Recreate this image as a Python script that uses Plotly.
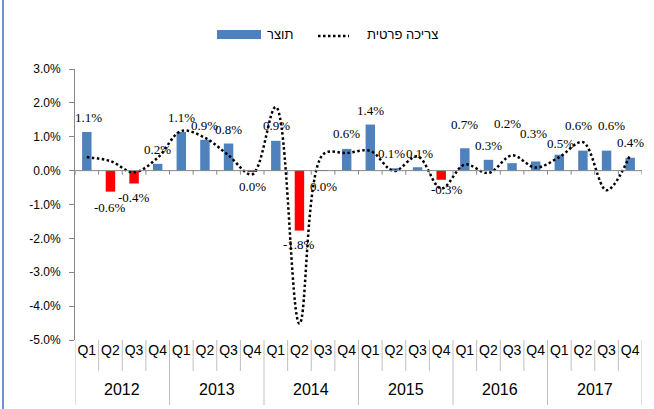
import plotly.graph_objects as go

# Quarterly growth, percent change from previous quarter
years = ["2012", "2013", "2014", "2015", "2016", "2017"]
quarters = ["Q1", "Q2", "Q3", "Q4"]

gdp = [1.14, -0.62, -0.38, 0.20,
       1.14, 0.91, 0.80, -0.03,
       0.88, -1.77, -0.01, 0.64,
       1.36, 0.07, 0.10, -0.27,
       0.66, 0.32, 0.22, 0.27,
       0.47, 0.59, 0.59, 0.38]

consumption = [0.40, 0.28, -0.05, 0.38,
               1.17, 0.97, 0.45, -0.11,
               1.88, -4.52, 0.48, 0.52,
               0.58, -0.01, 0.42, -0.53,
               0.18, -0.07, 0.45, 0.09,
               0.40, 0.84, -0.58, 0.47]

y_ticks = [3, 2, 1, 0, -1, -2, -3, -4, -5]

gdp_name = "תוצר"
cons_name = "צריכה פרטית"

# value-label placement (pixels from the bar end; some nudged clear of the line)
label_dy = [15, 16, 14, 14,
            15, 14, 14, 15,
            15, 14, 16, 15,
            14, 15, 14, 10,
            24, 14, 40, 28,
            11, 25, 25, 15]
label_dx = [2, 0, 0, 0,
            0, 0, 0, 0,
            1, 0, 0, 0,
            0, -2, 2, 6,
            0, 0, -5, -2,
            1, -4, 5, 0]

BLUE = "#4F81BD"
RED = "#FF0000"
AXIS = "#868686"
SEP = "#BFBFBF"

n = len(gdp)
idx = list(range(n))
q_labels = [quarters[i % 4] for i in idx]


def fmt(v):
    s = f"{v:.1f}%"
    return "0.0%" if s == "-0.0%" else s


# plot area in pixels: x 75..642, y 69..340
W, H = 654, 409
L, R, T, B = 75, 12, 69, 69
pw, ph = W - L - R, H - T - B


def px(X):
    return (X - L) / pw


def py(Y):
    return (H - B - Y) / ph


fig = go.Figure()

fig.add_trace(go.Bar(
    x=idx, y=gdp,
    marker=dict(color=[BLUE if v >= 0 else RED for v in gdp], line=dict(width=0)),
    name=gdp_name, showlegend=False,
))

fig.add_trace(go.Scatter(
    x=idx, y=consumption, mode="lines",
    line=dict(color="#000000", width=2.5, dash="2.5px,2.5px", shape="spline", smoothing=1),
    name=cons_name, showlegend=False,
))

shapes = []
# zero line with small boundary ticks
shapes.append(dict(type="line", xref="x", yref="y", x0=-0.5, x1=n - 0.5, y0=0, y1=0,
                   line=dict(color=AXIS, width=1)))
for k in range(n + 1):
    shapes.append(dict(type="line", xref="x", yref="y", x0=k - 0.5, x1=k - 0.5, y0=0, y1=-0.12,
                       line=dict(color=AXIS, width=1)))
# category separators under the plot
for k in range(n + 1):
    y_end = py(405) if k % 4 == 0 else py(371)
    shapes.append(dict(type="line", xref="x", yref="paper", x0=k - 0.5, x1=k - 0.5,
                       y0=0, y1=y_end, line=dict(color=SEP, width=1)))

# legend
shapes.append(dict(type="rect", xref="paper", yref="paper", x0=px(217), x1=px(261),
                   y0=py(39), y1=py(30), fillcolor=BLUE, line=dict(width=0)))
shapes.append(dict(type="line", xref="paper", yref="paper", x0=px(318), x1=px(349),
                   y0=py(36), y1=py(36),
                   line=dict(color="#000000", width=2.5, dash="2.5px,2.5px")))
# chart frame edge
shapes.append(dict(type="line", xref="paper", yref="paper", x0=px(3), x1=px(3),
                   y0=py(0), y1=py(409), line=dict(color="#6A93C9", width=2)))

annotations = []
# value labels on the bars
for i, v in enumerate(gdp):
    annotations.append(dict(x=i, y=v, xref="x", yref="y", text=fmt(v), showarrow=False,
                            xanchor="center", yanchor="middle",
                            xshift=label_dx[i],
                            yshift=label_dy[i] if v >= 0 else -label_dy[i],
                            font=dict(family="Liberation Serif", size=13, color="#000000")))
for i, yr in enumerate(years):
    annotations.append(dict(x=4 * i + 1.5, y=py(389), xref="x", yref="paper", text=yr,
                            showarrow=False, font=dict(family="Arial", size=16, color="#000000"),
                            xanchor="center", yanchor="middle"))
annotations.append(dict(x=px(265), y=py(35), xref="paper", yref="paper", text=gdp_name,
                        showarrow=False, xanchor="left", yanchor="middle",
                        font=dict(family="Arial", size=13, color="#000000")))
annotations.append(dict(x=px(365), y=py(35), xref="paper", yref="paper", text=cons_name,
                        showarrow=False, xanchor="left", yanchor="middle",
                        font=dict(family="Arial", size=13, color="#000000")))

fig.update_layout(
    width=W, height=H,
    margin=dict(l=L, r=R, t=T, b=B, pad=0),
    paper_bgcolor="white", plot_bgcolor="white",
    bargap=0.6,
    showlegend=False,
    shapes=shapes,
    annotations=annotations,
    xaxis=dict(
        range=[-0.5, n - 0.5], tickmode="array", tickvals=idx, ticktext=q_labels,
        showgrid=False, zeroline=False, showline=False, ticks="",
        tickfont=dict(family="Arial", size=14, color="#000000"),
        automargin=False, fixedrange=True,
    ),
    yaxis=dict(
        range=[-5, 3], tickmode="array", tickvals=y_ticks,
        ticktext=[f"{v:.1f}%" for v in y_ticks],
        showgrid=False, zeroline=False, showline=True, linecolor=AXIS, linewidth=1,
        ticks="outside", ticklen=5, tickcolor=AXIS, ticklabelstandoff=6,
        tickfont=dict(family="Arial", size=12, color="#000000"),
        automargin=False, fixedrange=True,
    ),
)

fig.write_html("out.html")
